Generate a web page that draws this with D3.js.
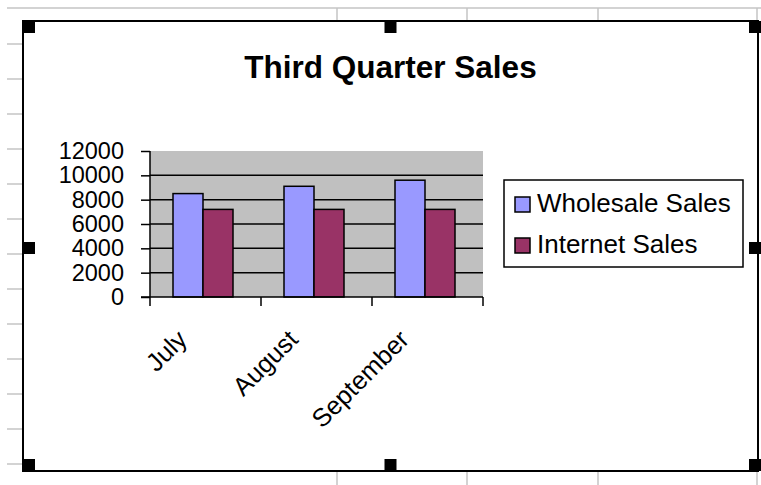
<!DOCTYPE html>
<html>
<head>
<meta charset="utf-8">
<script src="https://cdn.jsdelivr.net/npm/d3@7"></script>
<style>
  body { margin: 0; background: #ffffff; }
  text { font-family: "Liberation Sans", Arial, sans-serif; }
</style>
</head>
<body>
<div id="chart"></div>
<script>
// data
var months = ["July", "August", "September"];
var seriesNames = ["Wholesale Sales", "Internet Sales"];
var wholesale = [8500, 9100, 9600];
var internet = [7200, 7200, 7200];
var yTicks = [0, 2000, 4000, 6000, 8000, 10000, 12000];
var title = "Third Quarter Sales";

var seriesColors = ["#9999ff", "#993366"];

var width = 761,
    height = 485,
    frame = {left: 23, top: 21, right: 758, bottom: 471},
    plot = {left: 150, top: 151, right: 483, bottom: 297};

var svg = d3.select("#chart").append("svg")
    .attr("width", width)
    .attr("height", height);

// spreadsheet cells behind the chart object
var sheet = svg.append("g").attr("class", "sheet")
    .style("stroke", "#c4c4c4")
    .style("stroke-width", "1.5px");

sheet.append("line")
    .attr("x1", 7).attr("x2", width)
    .attr("y1", 8).attr("y2", 8);

var colEdges = [337, 467, 598, 757];
sheet.selectAll(".col-top")
    .data(colEdges)
  .enter().append("line")
    .attr("x1", function(d) { return d; })
    .attr("x2", function(d) { return d; })
    .attr("y1", 8).attr("y2", frame.top);
sheet.selectAll(".col-bottom")
    .data(colEdges)
  .enter().append("line")
    .attr("x1", function(d) { return d; })
    .attr("x2", function(d) { return d; })
    .attr("y1", frame.bottom).attr("y2", height);

sheet.selectAll(".row-edge")
    .data(d3.range(44, 470, 35))
  .enter().append("line")
    .attr("x1", 7).attr("x2", frame.left)
    .attr("y1", function(d) { return d; })
    .attr("y2", function(d) { return d; });

// chart object frame
svg.append("rect")
    .attr("x", frame.left)
    .attr("y", frame.top)
    .attr("width", frame.right - frame.left)
    .attr("height", frame.bottom - frame.top)
    .style("fill", "#ffffff")
    .style("stroke", "#000000")
    .style("stroke-width", "2px");

// title
svg.append("text")
    .attr("x", (frame.left + frame.right) / 2)
    .attr("y", 78)
    .attr("text-anchor", "middle")
    .style("font-size", "31.5px")
    .style("font-weight", "bold")
    .text(title);

// scales
var x = d3.scaleBand()
    .domain(months)
    .range([plot.left, plot.right]);

var x1 = d3.scaleBand()
    .domain(seriesNames)
    .range([23, 83]);

var y = d3.scaleLinear()
    .domain([0, 12000])
    .range([plot.bottom, plot.top]);

var color = d3.scaleOrdinal()
    .domain(seriesNames)
    .range(seriesColors);

// plot area
svg.append("rect")
    .attr("x", plot.left)
    .attr("y", plot.top)
    .attr("width", plot.right - plot.left)
    .attr("height", plot.bottom - plot.top)
    .style("fill", "#c0c0c0");

svg.append("g")
    .attr("class", "grid")
  .selectAll("line")
    .data(yTicks.filter(function(d) { return d > 0 && d < 12000; }))
  .enter().append("line")
    .attr("x1", plot.left)
    .attr("x2", plot.right)
    .attr("y1", function(d) { return y(d); })
    .attr("y2", function(d) { return y(d); })
    .style("stroke", "#000000")
    .style("stroke-width", "1.5px");

// bars
var rows = months.map(function(m, i) {
    return {month: m, values: [
        {name: seriesNames[0], value: wholesale[i]},
        {name: seriesNames[1], value: internet[i]}
    ]};
});

var group = svg.selectAll(".month")
    .data(rows)
  .enter().append("g")
    .attr("class", "month")
    .attr("transform", function(d) { return "translate(" + x(d.month) + ",0)"; });

group.selectAll("rect")
    .data(function(d) { return d.values; })
  .enter().append("rect")
    .attr("x", function(d) { return x1(d.name); })
    .attr("y", function(d) { return y(d.value); })
    .attr("width", x1.bandwidth())
    .attr("height", function(d) { return y(0) - y(d.value); })
    .style("fill", function(d) { return color(d.name); })
    .style("stroke", "#000000")
    .style("stroke-width", "1.5px");

// y axis
var yAxis = svg.append("g")
    .attr("transform", "translate(" + plot.left + ",0)")
    .call(d3.axisLeft(y).tickValues(yTicks).tickSize(9).tickPadding(17).tickFormat(d3.format("d")));
yAxis.selectAll("line, path").style("stroke", "#000000").style("stroke-width", "1.5px");
yAxis.select(".domain").attr("d", "M0," + plot.bottom + "V" + plot.top);
yAxis.selectAll("text")
    .style("font-family", "'Liberation Sans', Arial, sans-serif")
    .style("font-size", "23.5px")
    .style("fill", "#000000");

// x axis
var xAxis = svg.append("g")
    .attr("transform", "translate(0," + plot.bottom + ")");
xAxis.append("line")
    .attr("x1", plot.left - 9)
    .attr("x2", plot.right)
    .style("stroke", "#000000")
    .style("stroke-width", "1.5px");
xAxis.selectAll(".tick")
    .data(months.map(function(m) { return x(m); }).concat([plot.right]))
  .enter().append("line")
    .attr("x1", function(d) { return d; })
    .attr("x2", function(d) { return d; })
    .attr("y1", 0).attr("y2", 9)
    .style("stroke", "#000000")
    .style("stroke-width", "1.5px");

xAxis.selectAll(".label")
    .data(months)
  .enter().append("text")
    .attr("text-anchor", "end")
    .attr("transform", function(d) {
        return "translate(" + (x(d) + x.bandwidth() / 2 - 17) + ",44) rotate(-45)";
    })
    .style("font-size", "25.5px")
    .text(function(d) { return d; });

// legend
var legend = svg.append("g")
    .attr("transform", "translate(504,180)");
legend.append("rect")
    .attr("width", 239)
    .attr("height", 87)
    .style("fill", "#ffffff")
    .style("stroke", "#000000")
    .style("stroke-width", "1.5px");

var item = legend.selectAll(".item")
    .data(seriesNames)
  .enter().append("g")
    .attr("class", "item")
    .attr("transform", function(d, i) { return "translate(11," + (17 + i * 41) + ")"; });
item.append("rect")
    .attr("width", 15)
    .attr("height", 15)
    .style("fill", function(d) { return color(d); })
    .style("stroke", "#000000")
    .style("stroke-width", "1.5px");
item.append("text")
    .attr("x", 22)
    .attr("y", 15)
    .style("font-size", "26px")
    .text(function(d) { return d; });

// selection handles of the chart object
var hx = [frame.left, (frame.left + frame.right) / 2 - 6, frame.right - 9],
    hy = [frame.top, (frame.top + frame.bottom) / 2 - 4, frame.bottom - 12];
var handles = [];
hx.forEach(function(px, i) {
    hy.forEach(function(py, j) {
        if (!(i === 1 && j === 1)) handles.push([px, py]);
    });
});
svg.selectAll(".handle")
    .data(handles)
  .enter().append("rect")
    .attr("class", "handle")
    .attr("x", function(d) { return d[0]; })
    .attr("y", function(d) { return d[1]; })
    .attr("width", 12)
    .attr("height", 12)
    .style("fill", "#000000");
</script>
</body>
</html>
